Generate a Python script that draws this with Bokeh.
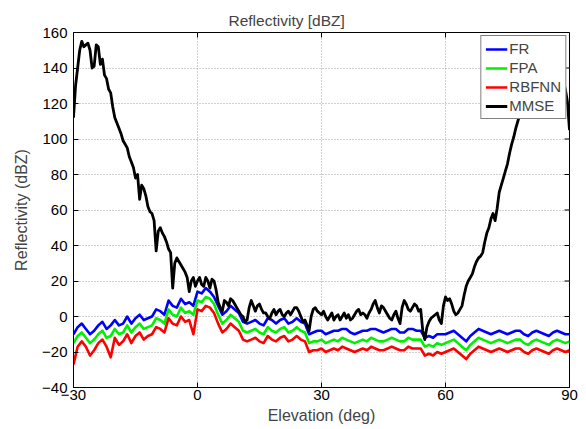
from bokeh.plotting import figure
from bokeh.models import FixedTicker, Range1d, Legend, LegendItem
from bokeh.embed import file_html
from bokeh.resources import INLINE

# ---------------- data ----------------
elevation = list(range(-30, 91))

fr = [-10, -6, -4, -7, -10, -8, -5, -3, -7, -5,
      -2, -5, -4, 0, -4, -1, 1, -2, -1, 0,
      4, 3, 1, 9, 6, 5, 10, 7, 8, 6,
      14, 13, 16, 14, 11, 6, 1, 3, 6, 4,
      2, -3, -4, -3, -2, -4, -5, -1, -2, -4,
      -2, -1, -4, -3, -1, -3, -4, -10, -9, -8,
      -8, -10, -9, -8, -8, -7, -7, -9, -10, -9,
      -8, -8, -7, -7, -8, -9, -8, -7, -7, -9,
      -9, -7, -7, -8, -8, -12, -11, -12, -10, -10,
      -10, -9, -8, -10, -12, -14, -11, -9, -7, -8,
      -9, -10, -9, -8, -9, -10, -9, -8, -8, -10,
      -11, -9, -8, -9, -10, -11, -9, -8, -9, -10,
      -10]

fpa = [-15, -11, -9, -12, -15, -13, -10, -8, -12, -11,
       -7, -10, -9, -5, -9, -6, -4, -7, -6, -5,
       -1, -2, -4, 4, 1, 0, 5, 2, 3, 1,
       9, 8, 11, 10, 7, 1, -4, -2, 1, -1,
       -3, -8, -9, -8, -7, -9, -10, -6, -8, -9,
       -7, -6, -9, -8, -6, -8, -9, -15, -14, -14,
       -13, -15, -14, -13, -14, -12, -13, -14, -15, -14,
       -13, -14, -12, -13, -14, -14, -13, -12, -13, -14,
       -14, -12, -13, -13, -13, -17, -16, -17, -15, -16,
       -15, -14, -13, -15, -17, -19, -16, -14, -12, -13,
       -14, -15, -14, -13, -14, -15, -14, -13, -13, -15,
       -16, -14, -13, -14, -15, -16, -14, -13, -14, -15,
       -14]

rbfnn = [-27, -17, -14, -17, -22, -19, -15, -13, -17, -23,
         -12, -16, -14, -10, -15, -11, -9, -13, -11, -10,
         -6, -7, -9, -1, -4, -5, 0, -3, -2, -10,
         4, 3, 6, 5, 2, -4, -9, -7, -4, -6,
         -8, -13, -14, -13, -12, -14, -15, -11, -13, -14,
         -12, -11, -14, -13, -11, -13, -14, -20, -19, -19,
         -18, -20, -19, -18, -19, -17, -18, -19, -20, -19,
         -18, -19, -17, -18, -19, -19, -18, -17, -18, -19,
         -19, -17, -18, -18, -18, -22, -21, -22, -20, -21,
         -20, -19, -18, -20, -22, -24, -21, -19, -17, -18,
         -19, -20, -19, -18, -19, -20, -19, -18, -18, -20,
         -21, -19, -18, -19, -20, -21, -19, -18, -19, -20,
         -19]

# MMSE is read at half-degree steps (it is much noisier)
mmse_elevation = [e / 2 for e in range(-60, 181)]
mmse = [112, 130, 140, 150, 155, 152, 153, 154, 150, 140,
        141, 153, 152, 142, 145, 136, 134, 128, 126, 118,
        112, 109, 106, 103, 99, 97, 95, 90, 87, 84,
        78, 80, 66, 74, 72, 68, 62, 59, 58, 54,
        37, 48, 50, 47, 45, 42, 38, 36, 16, 30,
        33, 31, 29, 27, 25, 22, 14, 20, 22, 17,
        20, 22, 18, 17, 22, 20, 16, 21, 20, 15,
        8, 5, 3, 9, 8, 6, 10, 9, 7, 5,
        3, 1, 0, -3, -2, 5, 9, 6, 3, 6,
        7, 4, 2, 2, 0, -1, 2, 4, 1, 3,
        4, 1, 0, 2, 3, 1, 3, 5, 5, 3,
        0, -3, -2, -5, -8, 0, 4, 5, 3, 2,
        1, 3, 0, -2, 0, 2, -2, 0, 1, -2,
        0, 2, -1, 1, -2, -1, 1, 3, 4, 1,
        2, 1, -1, 2, 4, 7, 9, 5, 2, 6,
        5, 3, 1, -1, -2, 1, 3, -1, -4, 5,
        9, 7, 4, 3, 5, 7, 6, 3, 4, -8,
        -13, -6, -3, -1, 0, 1, 2, -2, -4, 6,
        11, 9, 10, 7, 3, 1, 2, 4, 6, 12,
        17, 20, 22, 24, 28, 31, 33, 34, 36, 42,
        47, 50, 55, 58, 54, 61, 70, 74, 78, 82,
        86, 92, 97, 101, 106, 110, 114, 116, 118, 121,
        125, 127, 128, 130, 132, 134, 136, 138, 140, 141,
        142, 142, 143, 142, 140, 139, 136, 133, 128, 121,
        105]

series_names = ["FR", "FPA", "RBFNN", "MMSE"]
series_colors = ["#0000ff", "#00f000", "#ff0000", "#000000"]
x_ticks = [-30, 0, 30, 60, 90]
y_ticks = [-40, -20, 0, 20, 40, 60, 80, 100, 120, 140, 160]

FONT = "Liberation Sans"
X0, X1, Y0, Y1 = -30, 90, -40, 160

p = figure(width=586, height=429, output_backend="svg", toolbar_location=None,
           x_range=Range1d(X0, X1), y_range=Range1d(Y0, Y1),
           min_border_left=73, min_border_right=17, min_border_top=32,
           min_border_bottom=42)
p.background_fill_color = "white"
p.border_fill_color = "white"
p.outline_line_color = "black"
p.outline_line_width = 1

p.title.text = "Reflectivity [dBZ]"
p.title.text_font = FONT
p.title.text_font_size = "15.5px"
p.title.text_font_style = "normal"
p.title.align = "left"
p.title.offset = 155
p.title.vertical_align = "top"
p.title.standoff = 4

for ax in (p.xaxis[0], p.yaxis[0]):
    ax.major_label_text_font = FONT
    ax.major_label_text_font_size = "15px"
    ax.major_label_text_color = "black"
    ax.axis_label_text_font = FONT
    ax.axis_label_text_font_size = "16px"
    ax.axis_label_text_font_style = "normal"
    ax.major_tick_in = 5
    ax.major_tick_out = 0
    ax.minor_tick_line_color = None
    ax.axis_line_color = "black"
    ax.major_tick_line_color = "black"

p.xaxis[0].ticker = FixedTicker(ticks=x_ticks)
p.yaxis[0].ticker = FixedTicker(ticks=y_ticks)
p.xaxis[0].axis_label = "Elevation (deg)"
p.yaxis[0].axis_label = "Reflectivity (dBZ)"
p.xaxis[0].major_label_standoff = 2
p.xaxis[0].axis_label_standoff = 4
p.yaxis[0].major_label_standoff = 6
p.yaxis[0].axis_label_standoff = 9

p.xgrid.ticker = FixedTicker(ticks=x_ticks)
p.ygrid.ticker = FixedTicker(ticks=y_ticks)
for g in (p.xgrid[0], p.ygrid[0]):
    g.grid_line_color = "#a0a0a0"
    g.grid_line_dash = "1 2"
    g.grid_line_width = 1

# mirrored inward tick marks on the top and right edges (MATLAB box style)
tick_len_y = 5 * (Y1 - Y0) / 355.0
tick_len_x = 5 * (X1 - X0) / 496.0
p.segment(x0=x_ticks, y0=[Y1] * len(x_ticks), x1=x_ticks,
          y1=[Y1 - tick_len_y] * len(x_ticks), line_color="black", line_width=1)
p.segment(x0=[X1] * len(y_ticks), y0=y_ticks, x1=[X1 - tick_len_x] * len(y_ticks),
          y1=y_ticks, line_color="black", line_width=1)

renderers = []
data = {"FR": (elevation, fr), "FPA": (elevation, fpa),
        "RBFNN": (elevation, rbfnn), "MMSE": (mmse_elevation, mmse)}
for name, col in zip(series_names, series_colors):
    xs, ys = data[name]
    r = p.line(xs, ys, line_color=col, line_width=2.6 if name != "MMSE" else 2.8,
               line_join="round")
    renderers.append((name, r))

legend = Legend(items=[LegendItem(label=n, renderers=[r]) for n, r in renderers],
                location="top_right", margin=3, padding=4, spacing=2,
                label_text_font=FONT, label_text_font_size="15px",
                label_height=16, glyph_height=16, glyph_width=22, label_standoff=2,
                border_line_color="black", border_line_width=1,
                background_fill_color="white", background_fill_alpha=1)
p.add_layout(legend)

open("out.html", "w").write(file_html(p, INLINE))
